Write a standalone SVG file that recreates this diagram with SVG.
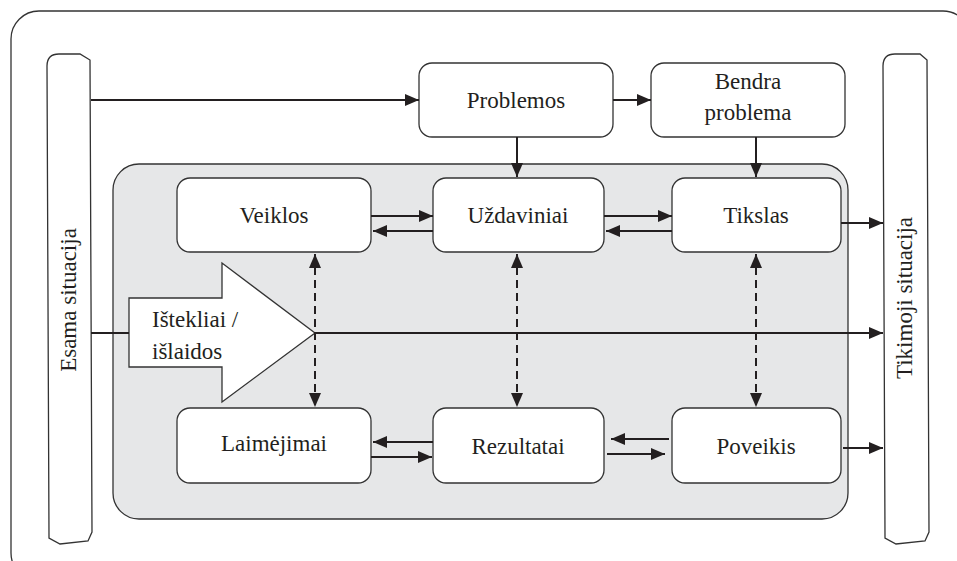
<svg xmlns="http://www.w3.org/2000/svg" width="957" height="561" viewBox="0 0 957 561">
<style>
.box{fill:#fff;stroke:#333;stroke-width:1.3}
.bar{fill:#fff;stroke:#333;stroke-width:1.3}
.ln{stroke:#231f20;stroke-width:2;fill:none}
.dl{stroke:#231f20;stroke-width:2;fill:none;stroke-dasharray:8,5}
</style>
<defs>
<marker id="ah" markerWidth="15" markerHeight="13" refX="14" refY="6" orient="auto-start-reverse" markerUnits="userSpaceOnUse">
<path d="M0,0 L14,6 L0,12 Z" fill="#231f20"/>
</marker>
</defs>
<rect x="11" y="11" width="960" height="570" rx="28" fill="#fff" stroke="#333" stroke-width="1.3"/>
<rect id="program" x="113" y="164" width="735" height="355" rx="26" fill="#e6e7e8" stroke="#333" stroke-width="1.3"/>
<g id="esama">
<path class="bar" d="M47,66 Q47,54 59,54 L80,54 L90,60 L92,532 L88,541 L60,544 L49,538 Z"/>
<text font-family="Liberation Serif" font-size="23" fill="#231f20" transform="translate(76,300) rotate(-90)" text-anchor="middle">Esama situacija</text>
</g>
<g id="tikimoji">
<path class="bar" d="M883,66 Q883,54 895,54 L920,54 L927,60 L929,532 L925,541 L896,544 L885,538 Z"/>
<text font-family="Liberation Serif" font-size="23" fill="#231f20" transform="translate(912,298) rotate(-90)" text-anchor="middle">Tikimoji situacija</text>
</g>
<g id="problemos"><rect class="box" x="419" y="63" width="194" height="74" rx="13"/><text font-family="Liberation Serif" font-size="23" fill="#231f20" x="516" y="108" text-anchor="middle">Problemos</text></g>
<g id="bendra"><rect class="box" x="651" y="63" width="194" height="74" rx="13"/><text font-family="Liberation Serif" font-size="23" fill="#231f20" x="748" y="89" text-anchor="middle">Bendra</text><text font-family="Liberation Serif" font-size="23" fill="#231f20" x="748" y="120" text-anchor="middle">problema</text></g>
<g id="veiklos"><rect class="box" x="177" y="178" width="194" height="74" rx="13"/><text font-family="Liberation Serif" font-size="23" fill="#231f20" x="274" y="223" text-anchor="middle">Veiklos</text></g>
<g id="uzdaviniai"><rect class="box" x="433" y="178" width="171" height="74" rx="13"/><text font-family="Liberation Serif" font-size="23" fill="#231f20" x="518" y="223" text-anchor="middle">Uždaviniai</text></g>
<g id="tikslas"><rect class="box" x="672" y="178" width="169" height="74" rx="13"/><text font-family="Liberation Serif" font-size="23" fill="#231f20" x="756" y="223" text-anchor="middle">Tikslas</text></g>
<g id="laimejimai"><rect class="box" x="177" y="408" width="194" height="75" rx="13"/><text font-family="Liberation Serif" font-size="23" fill="#231f20" x="274" y="451" text-anchor="middle">Laimėjimai</text></g>
<g id="rezultatai"><rect class="box" x="433" y="408" width="171" height="75" rx="13"/><text font-family="Liberation Serif" font-size="23" fill="#231f20" x="518" y="454" text-anchor="middle">Rezultatai</text></g>
<g id="poveikis"><rect class="box" x="672" y="408" width="169" height="75" rx="13"/><text font-family="Liberation Serif" font-size="23" fill="#231f20" x="756" y="454" text-anchor="middle">Poveikis</text></g>
<g id="istekliai">
<path d="M129,298 L222,298 L222,263 L315,333 L222,402 L222,367 L129,367 Z" fill="#fff" stroke="#333" stroke-width="1.3"/>
<text font-family="Liberation Serif" font-size="23" fill="#231f20" x="152" y="327">Ištekliai /</text>
<text font-family="Liberation Serif" font-size="23" fill="#231f20" x="152" y="359">išlaidos</text>
</g>
<g id="connectors">
<line class="ln" x1="91" y1="100" x2="419" y2="100" marker-end="url(#ah)"/>
<line class="ln" x1="613" y1="100" x2="651" y2="100" marker-end="url(#ah)"/>
<line class="ln" x1="517" y1="137" x2="517" y2="177" marker-end="url(#ah)"/>
<line class="ln" x1="756" y1="137" x2="756" y2="177" marker-end="url(#ah)"/>
<line class="ln" x1="371" y1="216" x2="433" y2="216" marker-end="url(#ah)"/>
<line class="ln" x1="433" y1="231" x2="373" y2="231" marker-end="url(#ah)"/>
<line class="ln" x1="604" y1="216" x2="672" y2="216" marker-end="url(#ah)"/>
<line class="ln" x1="672" y1="231" x2="606" y2="231" marker-end="url(#ah)"/>
<line class="ln" x1="841" y1="223" x2="883" y2="223" marker-end="url(#ah)"/>
<line class="ln" x1="91" y1="333" x2="129" y2="333"/>
<line class="ln" x1="315" y1="333" x2="883" y2="333" marker-end="url(#ah)"/>
<line class="dl" x1="315" y1="254" x2="315" y2="407" marker-start="url(#ah)" marker-end="url(#ah)"/>
<line class="dl" x1="517" y1="254" x2="517" y2="407" marker-start="url(#ah)" marker-end="url(#ah)"/>
<line class="dl" x1="756" y1="254" x2="756" y2="407" marker-start="url(#ah)" marker-end="url(#ah)"/>
<line class="ln" x1="433" y1="442" x2="373" y2="442" marker-end="url(#ah)"/>
<line class="ln" x1="371" y1="457" x2="432" y2="457" marker-end="url(#ah)"/>
<line class="ln" x1="669" y1="439" x2="611" y2="439" marker-end="url(#ah)"/>
<line class="ln" x1="607" y1="454" x2="665" y2="454" marker-end="url(#ah)"/>
<line class="ln" x1="843" y1="448" x2="883" y2="448" marker-end="url(#ah)"/>
</g>
</svg>
